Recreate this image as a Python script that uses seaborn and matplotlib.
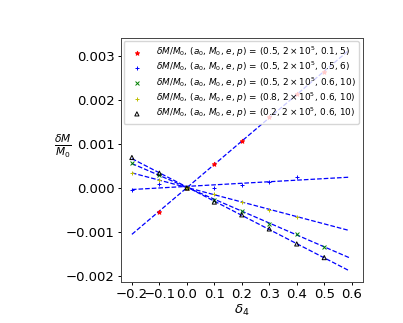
import numpy as np
import pandas as pd
import seaborn as sns
import matplotlib
matplotlib.use("Agg")
import matplotlib.pyplot as plt

# delta_4 values at which dM/M0 was sampled
x_red = [-0.1, 0.0, 0.1, 0.2, 0.3, 0.4, 0.5]
y_red = [-0.00054, 0.0, 0.00055, 0.00107, 0.0016, 0.00212, 0.00263]

x_blue = [-0.2, -0.1, 0.0, 0.1, 0.2, 0.3, 0.4]
y_blue = [-0.00004, 0.00009, 0.0, 0.0000, 0.00007, 0.00013, 0.00024]

x_green = [-0.2, -0.1, 0.0, 0.1, 0.2, 0.3, 0.4, 0.5]
y_green = [0.00056, 0.0003, 0.0, -0.00027, -0.00053, -0.00081, -0.00105, -0.00133]

x_yellow = [-0.2, -0.1, 0.0, 0.1, 0.2, 0.3, 0.4]
y_yellow = [0.000335, 0.00018, 0.0, -0.000135, -0.00031, -0.0005, -0.00065]

x_black = [-0.2, -0.1, 0.0, 0.1, 0.2, 0.3, 0.4, 0.5]
y_black = [0.00069, 0.000335, 0.0, -0.00032, -0.00061, -0.00093, -0.00127, -0.00158]

params = ["(0.5, $2\\times10^5$, 0.1, 5)",
          "(0.5, $2\\times10^5$, 0.5, 6)",
          "(0.5, $2\\times10^5$, 0.6, 10)",
          "(0.8, $2\\times10^5$, 0.6, 10)",
          "(0.2, $2\\times10^5$, 0.6, 10)"]

fit_x = [-0.2, 0.59]  # range of the fitted lines


def main():
  fs = 9.5
  plt.rcParams['font.size'] = fs
  plt.rcParams['axes.linewidth'] = 0.7
  fig = plt.figure(figsize=(4.03, 3.23), dpi=100)
  ax = fig.add_axes([0.300, 0.126, 0.600, 0.755])

  series = [
    (x_red, y_red, 'r', '*', 'r', 10),
    (x_blue, y_blue, 'b', '+', 'b', 11),
    (x_green, y_green, 'g', 'x', 'g', 8),
    (x_yellow, y_yellow, 'y', '+', 'y', 11),
    (x_black, y_black, 'k', '^', 'none', 9),
  ]

  for (xs, ys, col, mk, fc, sz), prm in zip(series, params):
    df = pd.DataFrame({'x': xs, 'y': ys})
    lab = r'$\delta M/M_0$, ($a_0$, $M_0$, $e$, $p$) = ' + prm
    sns.scatterplot(data=df, x='x', y='y', marker=mk, s=sz, facecolor=fc,
                    edgecolor=col, linewidth=0.7, ax=ax, label=lab, zorder=3)
    # linear fit through the samples
    k, b = np.polyfit(xs, ys, 1)
    fit = pd.DataFrame({'x': fit_x, 'y': [k * v + b for v in fit_x]})
    sns.lineplot(data=fit, x='x', y='y', color='b', linestyle='--',
                 linewidth=0.9, ax=ax, zorder=2)

  ax.set_xlim(-0.24, 0.64)
  ax.set_ylim(-0.00214, 0.00339)
  ax.set_xticks(np.arange(-0.2, 0.61, 0.1))
  ax.set_yticks([-0.002, -0.001, 0.0, 0.001, 0.002, 0.003])
  ax.tick_params(labelsize=fs, length=2.2, width=0.7, pad=2.2)
  ax.set_xlabel(r'$\delta_4$', fontsize=fs, labelpad=1)
  ax.set_ylabel(r'$\frac{\delta M}{M_0}$', fontsize=fs + 1.5, rotation=0, labelpad=12)
  ax.yaxis.set_label_coords(-0.24, 0.5)
  for sp in ax.spines.values():
    sp.set_color('#444444')

  ax.legend(loc='upper left', fontsize=6.4, handletextpad=1.0, borderpad=0.4,
            labelspacing=0.1, handlelength=2.2, borderaxespad=0.3)

  plt.savefig("out.png", dpi=100)


if __name__ == "__main__":
  main()
